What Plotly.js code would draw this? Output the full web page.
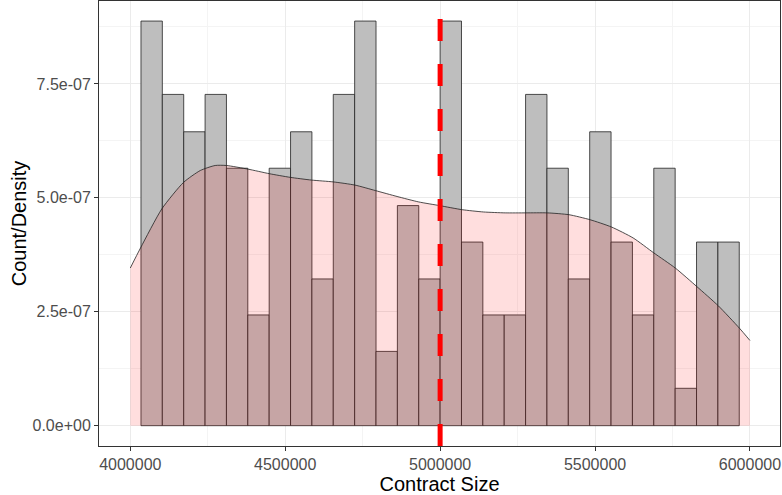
<!DOCTYPE html>
<html>
<head>
<meta charset="utf-8">
<script src="https://cdn.plot.ly/plotly-3.0.1.min.js"></script>
<style>html,body{margin:0;padding:0;background:#fff;}#chart{width:782px;height:495px;}</style>
</head>
<body>
<div id="chart"></div>
<script>
// Histogram bin centers (contract size) and bar heights (density)
const binCenters = [4068966, 4137931, 4206897, 4275862, 4344828, 4413793, 4482759, 4551724,
  4620690, 4689655, 4758621, 4827586, 4896552, 4965517, 5034483, 5103448, 5172414, 5241379,
  5310345, 5379310, 5448276, 5517241, 5586207, 5655172, 5724138, 5793103, 5862069, 5931034];
const binDensity = [8.88e-7, 7.27e-7, 6.45e-7, 7.27e-7, 5.65e-7, 2.43e-7, 5.65e-7, 6.45e-7,
  3.22e-7, 7.27e-7, 8.88e-7, 1.63e-7, 4.83e-7, 3.22e-7, 8.88e-7, 4.03e-7, 2.43e-7, 2.43e-7,
  7.27e-7, 5.65e-7, 3.22e-7, 6.45e-7, 4.03e-7, 2.43e-7, 5.65e-7, 0.82e-7, 4.03e-7, 4.03e-7];
const binWidth = 68966;

// Kernel density curve
const densX = [4000000, 4033000, 4102000, 4172000, 4226000, 4274000, 4310000, 4380000, 4449000,
  4516000, 4585000, 4655000, 4725000, 4791000, 4861000, 4931000, 4998000, 5071000, 5140000,
  5210000, 5277000, 5346000, 5416000, 5484000, 5553000, 5623000, 5690000, 5759000, 5829000,
  5898000, 5966000, 6000000];
const densY = [3.46e-7, 3.90e-7, 4.76e-7, 5.34e-7, 5.60e-7, 5.71e-7, 5.71e-7, 5.63e-7, 5.53e-7,
  5.45e-7, 5.39e-7, 5.35e-7, 5.28e-7, 5.16e-7, 5.03e-7, 4.91e-7, 4.83e-7, 4.74e-7, 4.69e-7,
  4.67e-7, 4.67e-7, 4.67e-7, 4.63e-7, 4.52e-7, 4.36e-7, 4.12e-7, 3.79e-7, 3.46e-7, 3.05e-7,
  2.63e-7, 2.14e-7, 1.87e-7];

const refLine = 5000000;

const xTicks = [4000000, 4500000, 5000000, 5500000, 6000000];
const xTickText = ['4000000', '4500000', '5000000', '5500000', '6000000'];
const yTicks = [0, 2.5e-7, 5.0e-7, 7.5e-7];
const yTickText = ['0.0e+00', '2.5e-07', '5.0e-07', '7.5e-07'];

const traces = [
  {
    type: 'bar',
    x: binCenters,
    y: binDensity,
    width: binCenters.map(() => binWidth),
    marker: {color: '#BEBEBE', line: {color: '#222222', width: 0.8}},
    hoverinfo: 'skip',
    showlegend: false
  },
  {
    type: 'scatter',
    mode: 'lines',
    x: densX,
    y: densY,
    line: {color: '#222222', width: 0.8, shape: 'spline', smoothing: 0.6},
    fill: 'tozeroy',
    fillcolor: 'rgba(255,0,0,0.13)',
    hoverinfo: 'skip',
    showlegend: false
  }
];

const layout = {
  width: 782,
  height: 495,
  margin: {l: 99, r: 2, t: 1, b: 49},
  paper_bgcolor: '#ffffff',
  plot_bgcolor: '#ffffff',
  font: {family: 'Liberation Sans, Arial, sans-serif', color: '#4D4D4D', size: 16},
  bargap: 0,
  xaxis: {
    range: [3899000, 6097000],
    tickmode: 'array',
    tickvals: xTicks,
    ticktext: xTickText,
    ticks: 'outside',
    ticklen: 4,
    tickcolor: '#333333',
    tickfont: {size: 16, color: '#4D4D4D'},
    showgrid: true,
    gridcolor: '#EBEBEB',
    gridwidth: 1,
    minor: {tickmode: 'array', tickvals: [4250000, 4750000, 5250000, 5750000], showgrid: true, gridcolor: '#F4F4F4', gridwidth: 1, ticks: ''},
    zeroline: false,
    showline: true,
    mirror: true,
    linecolor: '#333333',
    linewidth: 1,
    title: {text: 'Contract Size', font: {size: 20, color: '#000000'}, standoff: 6}
  },
  yaxis: {
    range: [-4.46e-8, 9.32e-7],
    tickmode: 'array',
    tickvals: yTicks,
    ticktext: yTickText,
    ticks: 'outside',
    ticklen: 4,
    tickcolor: '#333333',
    tickfont: {size: 16, color: '#4D4D4D'},
    showgrid: true,
    gridcolor: '#EBEBEB',
    gridwidth: 1,
    minor: {tickmode: 'array', tickvals: [1.25e-7, 3.75e-7, 6.25e-7, 8.75e-7], showgrid: true, gridcolor: '#F4F4F4', gridwidth: 1, ticks: ''},
    zeroline: false,
    showline: true,
    mirror: true,
    linecolor: '#333333',
    linewidth: 1,
    title: {text: 'Count/Density', font: {size: 20, color: '#000000'}, standoff: 0}
  },
  shapes: [
    {
      type: 'line',
      xref: 'x', yref: 'paper',
      x0: refLine, x1: refLine, y0: 0, y1: 1,
      line: {color: '#FF0000', width: 5, dash: '22px,23px'},
      layer: 'above'
    }
  ]
};

Plotly.newPlot('chart', traces, layout, {displayModeBar: false, staticPlot: true});
</script>
</body>
</html>
